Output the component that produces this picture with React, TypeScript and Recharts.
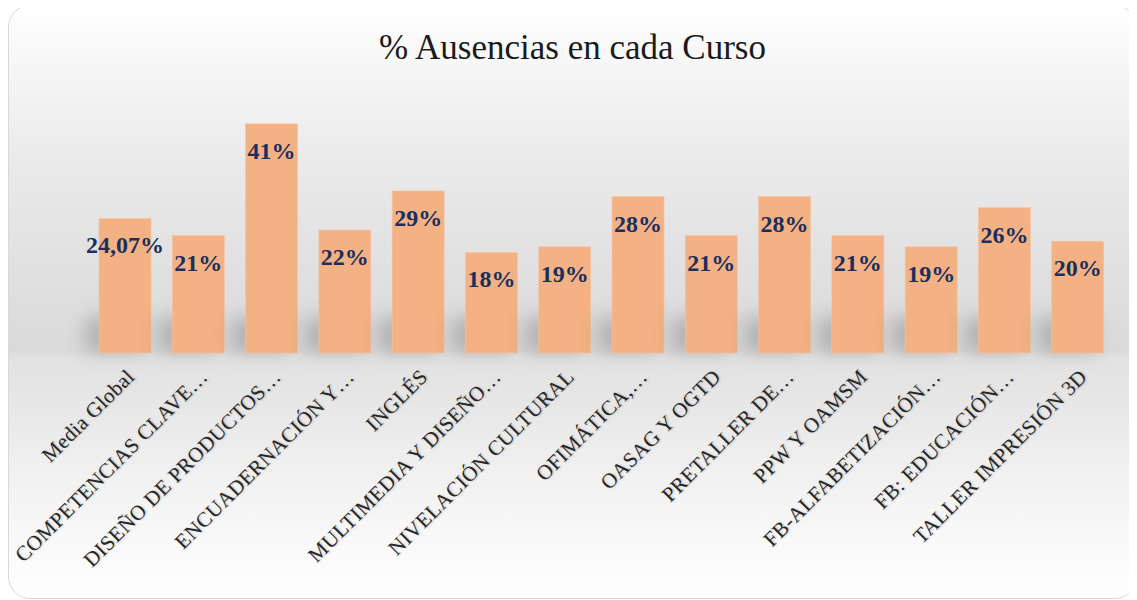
import React from "react";
import { BarChart, Bar, XAxis, YAxis, LabelList } from "recharts";

const categories = [
  "Media Global",
  "COMPETENCIAS CLAVE…",
  "DISEÑO DE PRODUCTOS…",
  "ENCUADERNACIÓN Y…",
  "INGLÉS",
  "MULTIMEDIA Y DISEÑO…",
  "NIVELACIÓN CULTURAL",
  "OFIMÁTICA,…",
  "OASAG Y OGTD",
  "PRETALLER DE…",
  "PPW Y OAMSM",
  "FB-ALFABETIZACIÓN…",
  "FB: EDUCACIÓN…",
  "TALLER IMPRESIÓN 3D",
];

const absencePct = [24.07, 21, 41, 22, 29, 18, 19, 28, 21, 28, 21, 19, 26, 20];

const valueLabels = [
  "24,07%", "21%", "41%", "22%", "29%", "18%", "19%", "28%", "21%", "28%", "21%", "19%", "26%", "20%",
];

const data = categories.map((name, i) => ({
  name,
  value: absencePct[i],
  label: valueLabels[i],
}));

const SERIF = "'Liberation Serif', 'DejaVu Serif', serif";

const ShadowBar = (props: any) => {
  const { x, y, width, height, index } = props;
  const bottom = y + height;
  return (
    <g>
      {index === 0 && (
        <defs>
          <filter id="barShadowBlur" x="-60%" y="-60%" width="220%" height="220%">
            <feGaussianBlur stdDeviation="9" />
          </filter>
        </defs>
      )}
      <rect
        x={x - 14}
        y={bottom - 36}
        width={width + 6}
        height={36}
        fill="#777777"
        opacity={0.4}
        filter="url(#barShadowBlur)"
      />
      <rect x={x} y={y} width={width} height={height} fill="#F4B183" stroke="#F6C4A0" strokeWidth={0.6} />
    </g>
  );
};

const ValueLabel = (props: any) => {
  const { x, y, width, index } = props;
  return (
    <text
      x={x + width / 2}
      y={y + 27}
      textAnchor="middle"
      dominantBaseline="central"
      fontFamily={SERIF}
      fontWeight="bold"
      fontSize={24}
      fill="#1B2F5E"
    >
      {valueLabels[index]}
    </text>
  );
};

const AngledTick = (props: any) => {
  const { x, y, payload } = props;
  const ax = x + 11;
  const ay = y + 17;
  return (
    <text
      x={ax}
      y={ay}
      transform={`rotate(-45, ${ax}, ${ay})`}
      textAnchor="end"
      fontFamily={SERIF}
      fontSize={21}
      letterSpacing={0.4}
      fill="#262626"
      style={{ textShadow: "1px 1px 2px rgba(0,0,0,0.2)" }}
    >
      {payload.value}
    </text>
  );
};

export default function App() {
  return (
    <div
      style={{
        position: "relative",
        width: 1129,
        height: 594,
        marginTop: -3,
        boxSizing: "border-box",
        border: "1.5px solid #d9d9d9",
        borderRadius: 22,
        overflow: "hidden",
        background:
          "linear-gradient(to bottom, #ffffff 0%, #f6f6f6 10%, #e9e9e9 28%, #e0e0e0 45%, #dadada 58.2%, #e2e2e2 59.6%, #e6e6e6 66%, #f0f0f0 78%, #fafafa 92%, #ffffff 100%)",
      }}
    >
      <div
        style={{
          position: "absolute",
          left: 0,
          right: 0,
          top: 22,
          textAlign: "center",
          fontFamily: SERIF,
          fontSize: 35,
          color: "#1a1a1a",
          lineHeight: "40px",
        }}
      >
        % Ausencias en cada Curso
      </div>
      <div style={{ position: "absolute", left: -1.5, top: -1.5 }}>
        <BarChart
          width={1129}
          height={594}
          data={data}
          margin={{ top: 96.5, right: 23, bottom: 16, left: 80 }}
          barSize={52}
        >
          <XAxis
            dataKey="name"
            interval={0}
            height={230}
            axisLine={false}
            tickLine={false}
            tick={<AngledTick />}
          />
          <YAxis hide domain={[0, 45]} />
          <Bar dataKey="value" shape={<ShadowBar />} isAnimationActive={false}>
            <LabelList dataKey="label" content={<ValueLabel />} />
          </Bar>
        </BarChart>
      </div>
    </div>
  );
}
